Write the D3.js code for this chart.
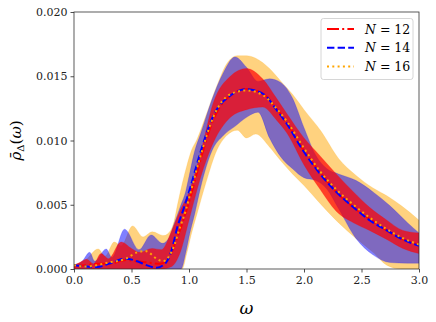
<!DOCTYPE html>
<html>
<head>
<meta charset="utf-8">
<script src="https://cdn.jsdelivr.net/npm/d3@7"></script>
<style>
body { margin: 0; background: #fff; }
</style>
</head>
<body>
<div id="spectral_graph"></div>
<script>
// tick labels
var xTicks = [0, 0.5, 1.0, 1.5, 2.0, 2.5, 3.0]
var yTicks = [0, 0.005, 0.010, 0.015, 0.020]
var legendLabels = ["12", "14", "16"]

// N = 12 band
var band12Omega = [0, 0.05, 0.11, 0.17, 0.235, 0.3, 0.41, 0.5, 0.57, 0.68, 0.76, 0.85, 0.92, 1.0, 1.1, 1.21, 1.36, 1.5, 1.64, 1.76, 1.85, 2.0, 2.14, 2.28, 2.43, 2.57, 2.72, 2.86, 3.0]
var band12Lo = [0, 0, 0, 0, 0, 0, 0, 0, 0, 0, 0, 0.0002, 0.0012, 0.0038, 0.0071, 0.0098, 0.0118, 0.0124, 0.0126, 0.0116, 0.0106, 0.0081, 0.0062, 0.0045, 0.0036, 0.003, 0.0023, 0.0016, 0.0012]
var band12Hi = [0.0003, 0.0005, 0.00075, 0.0004, 0.0012, 0.0008, 0.0021, 0.0016, 0.0013, 0.0016, 0.0015, 0.003, 0.0045, 0.006, 0.009, 0.0129, 0.015, 0.0156, 0.0148, 0.0133, 0.0121, 0.0102, 0.0088, 0.0074, 0.006, 0.0048, 0.0038, 0.003, 0.0028]

// N = 14 band
var band14Omega = [0, 0.07, 0.137, 0.18, 0.28, 0.33, 0.44, 0.565, 0.67, 0.77, 0.83, 0.87, 0.93, 0.97, 1.0, 1.05, 1.1, 1.2, 1.3, 1.4, 1.5, 1.6, 1.7, 1.8, 1.9, 2.0, 2.1, 2.2, 2.3, 2.45, 2.6, 2.75, 2.9, 3.0]
var band14Lo = [0, 0, 0, 0, 0, 0, 0, 0, 0, 0, 0, 0, 0, 0.0012, 0.0025, 0.0043, 0.0063, 0.0092, 0.0104, 0.0111, 0.0118, 0.0122, 0.0102, 0.0087, 0.0078, 0.0071, 0.0069, 0.0062, 0.0047, 0.0024, 0.0011, 0.0005, 0.00045, 0.00045]
var band14Hi = [0.0003, 0.0006, 0.0013, 0.0006, 0.00156, 0.0009, 0.0031, 0.0015, 0.00265, 0.002, 0.0025, 0.0035, 0.005, 0.006, 0.0072, 0.0092, 0.0105, 0.0132, 0.0153, 0.0165, 0.0157, 0.0146, 0.0148, 0.0145, 0.0133, 0.011, 0.0089, 0.0078, 0.0074, 0.0069, 0.006, 0.0049, 0.0036, 0.0028]

// N = 16 band
var band16Omega = [0, 0.1, 0.21, 0.27, 0.35, 0.41, 0.51, 0.6, 0.68, 0.78, 0.84, 0.87, 0.9, 0.94, 0.98, 1.02, 1.07, 1.15, 1.24, 1.33, 1.42, 1.5, 1.58, 1.7, 1.8, 1.9, 2.0, 2.15, 2.3, 2.45, 2.6, 2.72, 2.85, 3.0]
var band16Lo = [0, 0, 0, 0, 0, 0, 0, 0, 0, 0, 0, 0, 0, 0, 0.0012, 0.0027, 0.0043, 0.0068, 0.0092, 0.0104, 0.0108, 0.0102, 0.0105, 0.0095, 0.0084, 0.0074, 0.0065, 0.005, 0.0036, 0.0024, 0.0013, 0.0003, 0, 0]
var band16Hi = [0.0003, 0.0007, 0.00156, 0.001, 0.0021, 0.0018, 0.00335, 0.0025, 0.0029, 0.0026, 0.003, 0.0037, 0.005, 0.0066, 0.008, 0.0092, 0.0101, 0.012, 0.0142, 0.016, 0.0166, 0.0166, 0.0164, 0.0156, 0.0146, 0.0136, 0.0124, 0.0107, 0.0086, 0.0073, 0.0063, 0.0057, 0.0049, 0.0038]

// mean curves
var mean12Omega = [0, 0.1, 0.2, 0.3, 0.45, 0.55, 0.65, 0.75, 0.82, 0.9, 1.0, 1.1, 1.21, 1.36, 1.5, 1.65, 1.76, 1.85, 2.0, 2.14, 2.28, 2.43, 2.57, 2.72, 2.86, 3.0]
var mean12 = [0.0002, 0.0003, 0.0004, 0.0004, 0.0007, 0.0006, 0.0005, 0.0004, 0.0008, 0.0025, 0.0052, 0.0085, 0.0116, 0.0135, 0.014, 0.0136, 0.0125, 0.0114, 0.0092, 0.0075, 0.006, 0.0048, 0.0039, 0.003, 0.0023, 0.0019]
var mean14Omega = [0, 0.1, 0.2, 0.3, 0.45, 0.55, 0.63, 0.72, 0.8, 0.85, 0.9, 0.95, 1.0, 1.1, 1.21, 1.36, 1.5, 1.65, 1.76, 1.85, 2.0, 2.14, 2.28, 2.43, 2.57, 2.72, 2.86, 3.0]
var mean14 = [0.0003, 0.0002, 0.00015, 0.0004, 0.0008, 0.0006, 0.0003, 0.0001, 0.0005, 0.0015, 0.0033, 0.0046, 0.006, 0.0091, 0.0119, 0.0135, 0.014, 0.0136, 0.0124, 0.0113, 0.0091, 0.0074, 0.006, 0.0048, 0.0038, 0.003, 0.0023, 0.0018]
var mean16Omega = [0, 0.1, 0.2, 0.3, 0.45, 0.55, 0.62, 0.72, 0.77, 0.82, 0.87, 0.92, 0.97, 1.0, 1.1, 1.21, 1.36, 1.5, 1.65, 1.76, 1.85, 2.0, 2.14, 2.28, 2.43, 2.57, 2.72, 2.86, 3.0]
var mean16 = [0.0003, 0.0002, 0.0003, 0.0005, 0.0008, 0.0013, 0.0014, 0.0008, 0.0006, 0.0009, 0.0018, 0.0032, 0.0045, 0.0055, 0.0088, 0.0118, 0.0136, 0.0139, 0.0135, 0.0125, 0.0115, 0.0094, 0.0076, 0.0062, 0.005, 0.004, 0.0031, 0.0024, 0.0019]

var fontFamily = "DejaVu Serif"
var margin = {top: 12, right: 17, bottom: 53, left: 74}
var width = 436 - margin.left - margin.right
var height = 322 - margin.top - margin.bottom

var svg = d3.select("#spectral_graph")
    .append("svg")
    .attr("width", 436)
    .attr("height", 322)
    .style("font-family", fontFamily)
var container = svg.append("g")
    .attr("transform", "translate(" + margin.left + "," + margin.top + ")")

var xScale = d3.scaleLinear().domain([0, 3]).range([0, width])
var yScale = d3.scaleLinear().domain([0, 0.02]).range([height, 0])

container.append("clipPath").attr("id", "plotClip")
    .append("rect").attr("width", width).attr("height", height)

var plot = container.append("g").attr("clip-path", "url(#plotClip)")

/**
 * Zip omega with lower and upper values
 */
function bandData(omega, lo, hi) {
    return omega.map(function(w, i) { return {w: w, lo: lo[i], hi: hi[i]} })
}

/**
 * Draw a shaded band (like fill_between)
 */
function drawBand(data, color, alpha) {
    var area = d3.area()
        .curve(d3.curveMonotoneX)
        .x(function(d) { return xScale(d.w) })
        .y0(function(d) { return yScale(d.lo) })
        .y1(function(d) { return yScale(d.hi) })
    plot.append("path")
        .datum(data)
        .attr("fill", color)
        .attr("fill-opacity", alpha)
        .attr("stroke", color)
        .attr("stroke-opacity", alpha * 0.6)
        .attr("stroke-width", 0.6)
        .attr("d", area)
}

/**
 * Draw a mean curve
 */
function drawMean(omega, values, color, dash) {
    var line = d3.line()
        .curve(d3.curveMonotoneX)
        .x(function(d) { return xScale(d[0]) })
        .y(function(d) { return yScale(d[1]) })
    plot.append("path")
        .datum(omega.map(function(w, i) { return [w, values[i]] }))
        .attr("fill", "none")
        .attr("stroke", color)
        .attr("stroke-width", 2)
        .attr("stroke-dasharray", dash)
        .attr("d", line)
}

drawBand(bandData(band16Omega, band16Lo, band16Hi), "orange", 0.5)
drawBand(bandData(band14Omega, band14Lo, band14Hi), "blue", 0.5)
drawBand(bandData(band12Omega, band12Lo, band12Hi), "red", 0.7)

var dashes = ["12,3.2,2,3.2", "7.4,3.2", "2,3.3"]
var colors = ["red", "blue", "orange"]
drawMean(mean12Omega, mean12, colors[0], dashes[0])
drawMean(mean14Omega, mean14, colors[1], dashes[1])
drawMean(mean16Omega, mean16, colors[2], dashes[2])

// axes
var xAxis = container.append("g")
    .attr("transform", "translate(0," + height + ")")
    .call(d3.axisBottom(xScale).tickValues(xTicks).tickFormat(d3.format(".1f")).tickSize(3.5).tickPadding(4))
var yAxis = container.append("g")
    .call(d3.axisLeft(yScale).tickValues(yTicks).tickFormat(d3.format(".3f")).tickSize(3.5).tickPadding(3))
xAxis.attr("font-family", null)
yAxis.attr("font-family", null)
container.selectAll(".domain").remove()
container.selectAll(".tick line").attr("stroke", "#222").attr("stroke-width", 0.8)
container.selectAll(".tick text").attr("font-size", 11).attr("fill", "#222")

container.append("rect")
    .attr("width", width).attr("height", height)
    .attr("fill", "none").attr("stroke", "#333").attr("stroke-width", 0.8)

// axis labels
svg.append("text")
    .attr("x", margin.left + width / 2).attr("y", 314)
    .attr("text-anchor", "middle")
    .attr("font-size", 17).attr("font-style", "italic")
    .text("ω")

var yLabel = svg.append("text")
    .attr("transform", "translate(21," + (margin.top + height / 2) + ") rotate(-90)")
    .attr("text-anchor", "middle")
    .attr("font-size", 15)
yLabel.append("tspan").attr("font-style", "italic").text("ρ\u0304")
yLabel.append("tspan").attr("font-size", 10).attr("dy", 3).text("Δ")
yLabel.append("tspan").attr("dy", -3).text("(")
yLabel.append("tspan").attr("font-style", "italic").text("ω")
yLabel.append("tspan").text(")")

// legend
var legend = svg.append("g").attr("transform", "translate(321,18.5)")
legend.append("rect")
    .attr("width", 92).attr("height", 61).attr("rx", 2.5)
    .attr("fill", "#fff").attr("fill-opacity", 0.8)
    .attr("stroke", "#ccc").attr("stroke-width", 0.8)
legendLabels.forEach(function(label, i) {
    var y = 10.5 + i * 18.7
    legend.append("line")
        .attr("x1", 6).attr("x2", 33).attr("y1", y).attr("y2", y)
        .attr("stroke", colors[i]).attr("stroke-width", 2)
        .attr("stroke-dasharray", dashes[i])
    var t = legend.append("text").attr("x", 44).attr("y", y + 4.5).attr("font-size", 12.5)
    t.append("tspan").attr("font-style", "italic").text("N")
    t.append("tspan").text(" = " + label)
})
</script>
</body>
</html>
